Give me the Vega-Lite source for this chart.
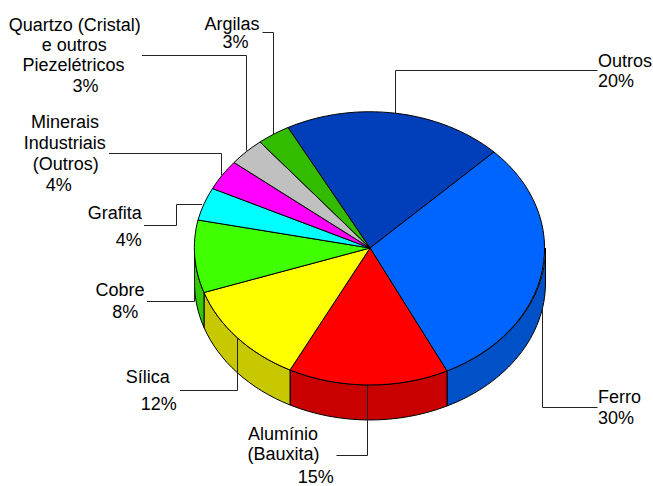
{"$schema":"https://vega.github.io/schema/vega-lite/v6.json","width":653,"height":486,"padding":0,"autosize":{"type":"none"},"background":"white","view":{"stroke":null},
"datasets":{"slices":[{"slice":"Outros","pct":20},{"slice":"Ferro","pct":30},{"slice":"Alumínio (Bauxita)","pct":15},{"slice":"Sílica","pct":12},{"slice":"Cobre","pct":8},{"slice":"Grafita","pct":4},{"slice":"Minerais Industriais (Outros)","pct":4},{"slice":"Quartzo (Cristal) e outros Piezelétricos","pct":3},{"slice":"Argilas","pct":3}],
"lines":[{"seq":1,"text":"Outros"},{"seq":2,"text":"20%"},{"seq":3,"text":"Ferro"},{"seq":4,"text":"30%"},{"seq":5,"text":"Alumínio"},{"seq":6,"text":"(Bauxita)"},{"seq":7,"text":"15%"},{"seq":8,"text":"Sílica"},{"seq":9,"text":"12%"},{"seq":10,"text":"Cobre"},{"seq":11,"text":"8%"},{"seq":12,"text":"Grafita"},{"seq":13,"text":"4%"},{"seq":14,"text":"Minerais"},{"seq":15,"text":"Industriais"},{"seq":16,"text":"(Outros)"},{"seq":17,"text":"4%"},{"seq":18,"text":"Quartzo (Cristal)"},{"seq":19,"text":"e outros"},{"seq":20,"text":"Piezelétricos"},{"seq":21,"text":"3%"},{"seq":22,"text":"Argilas"},{"seq":23,"text":"3%"}]},
"layer":[
{"data":{"name":"slices"},"transform":[{"filter":{"field":"slice","oneOf":["Ferro","Alumínio (Bauxita)","Sílica","Cobre"]}}],
"mark":{"type":"point","filled":true,"opacity":1,"size":4,"stroke":"black","strokeWidth":1},
"encoding":{"x":{"datum":370,"type":"quantitative","scale":{"domain":[0,653]},"axis":null},"y":{"datum":248,"type":"quantitative","scale":{"domain":[0,486],"range":[0,486]},"axis":null},
"fill":{"field":"slice","type":"nominal","legend":null,"scale":{"domain":["Ferro","Alumínio (Bauxita)","Sílica","Cobre"],"range":["#0050C8","#C80000","#C8C800","#33C800"]}},
"shape":{"field":"slice","type":"nominal","legend":null,"scale":{"domain":["Ferro","Alumínio (Bauxita)","Sílica","Cobre"],"range":["M175.5,0 A175.5,137 0 0 1 77,123 L77,158 A175.5,137 0 0 0 175.5,35 Z","M77,123 A175.5,137 0 0 1 -80,122 L-80,157 A175.5,137 0 0 0 77,158 Z","M-80,122 A175.5,137 0 0 1 -166,44.5 L-166,79.5 A175.5,137 0 0 0 -80,157 Z","M-166,44.5 A175.5,137 0 0 1 -175.5,0 L-175.5,35 A175.5,137 0 0 0 -166,79.5 Z"]}}}},
{"data":{"name":"slices"},
"mark":{"type":"point","filled":false,"opacity":1,"size":4,"stroke":"#222222","strokeWidth":1},
"encoding":{"x":{"datum":370,"type":"quantitative","scale":{"domain":[0,653]},"axis":null},"y":{"datum":248,"type":"quantitative","scale":{"domain":[0,486],"range":[0,486]},"axis":null},
"shape":{"field":"slice","type":"nominal","legend":null,"scale":{"domain":["Outros","Ferro","Alumínio (Bauxita)","Sílica","Cobre","Grafita","Minerais Industriais (Outros)","Quartzo (Cristal) e outros Piezelétricos","Argilas"],"range":["M25.5,-135 L25.5,-177.5 L227.5,-177.5","M172.5,60 L172.5,159.5 L227.5,159.5","M-2.5,137 L-2.5,207.5 L-33.5,207.5","M-132.5,90 L-132.5,142.5 L-190,142.5","M-175.5,5 L-175.5,53.5 L-223,53.5","M-168,-43.5 L-193.5,-43.5 L-193.5,-22.5 L-226,-22.5","M-148.5,-73 L-148.5,-94.5 L-261,-94.5","M-123.5,-97.3 L-123.5,-192.5 L-228,-192.5","M-96.5,-114 L-96.5,-215.5 L-107.5,-215.5"]}}}},
{"data":{"name":"slices"},
"mark":{"type":"point","filled":true,"opacity":1,"size":4,"stroke":"black","strokeWidth":1},
"encoding":{"x":{"datum":370,"type":"quantitative","scale":{"domain":[0,653]},"axis":null},"y":{"datum":248,"type":"quantitative","scale":{"domain":[0,486],"range":[0,486]},"axis":null},
"fill":{"field":"slice","type":"nominal","legend":null,"scale":{"domain":["Outros","Ferro","Alumínio (Bauxita)","Sílica","Cobre","Grafita","Minerais Industriais (Outros)","Quartzo (Cristal) e outros Piezelétricos","Argilas"],"range":["#003EBA","#0064FF","#FF0000","#FFFF00","#40FF00","#00FFFF","#FF00FF","#C0C0C0","#33BB00"]}},
"shape":{"field":"slice","type":"nominal","legend":null,"scale":{"domain":["Outros","Ferro","Alumínio (Bauxita)","Sílica","Cobre","Grafita","Minerais Industriais (Outros)","Quartzo (Cristal) e outros Piezelétricos","Argilas"],"range":["M0,0 L-82,-120.5 A175.5,137 0 0 1 124,-96 Z","M0,0 L124,-96 A175.5,137 0 0 1 77,123 Z","M0,0 L77,123 A175.5,137 0 0 1 -80,122 Z","M0,0 L-80,122 A175.5,137 0 0 1 -166,44.5 Z","M0,0 L-166,44.5 A175.5,137 0 0 1 -172,-28 Z","M0,0 L-172,-28 A175.5,137 0 0 1 -157.5,-59.5 Z","M0,0 L-157.5,-59.5 A175.5,137 0 0 1 -136,-85.5 Z","M0,0 L-136,-85.5 A175.5,137 0 0 1 -110,-106 Z","M0,0 L-110,-106 A175.5,137 0 0 1 -82,-120.5 Z"]}}}},
{"data":{"name":"lines"},
"mark":{"type":"text","font":"Liberation Sans","fontSize":18,"color":"black","align":"center","baseline":"alphabetic"},
"encoding":{"x":{"field":"seq","type":"quantitative","axis":null,"scale":{"domain":[1,2,3,4,5,6,7,8,9,10,11,12,13,14,15,16,17,18,19,20,21,22,23],"range":[625,616,619.5,616,283,283.5,315.8,147.7,158.8,120,125.3,114.8,128.7,65,64.7,65.7,58.8,74.8,74.2,73.5,85.5,232,235.5]}},
"y":{"field":"seq","type":"quantitative","axis":null,"scale":{"domain":[1,2,3,4,5,6,7,8,9,10,11,12,13,14,15,16,17,18,19,20,21,22,23],"range":[66.7,87.3,402.7,424,440,460,482.7,383.3,410,296,318.3,219,245.7,128.3,149,170,190.7,30.7,51,70.7,91.7,30,48.3]}},
"text":{"field":"text","type":"nominal"}}}
],
"resolve":{"scale":{"x":"independent","y":"independent","fill":"independent","shape":"independent"}}}
